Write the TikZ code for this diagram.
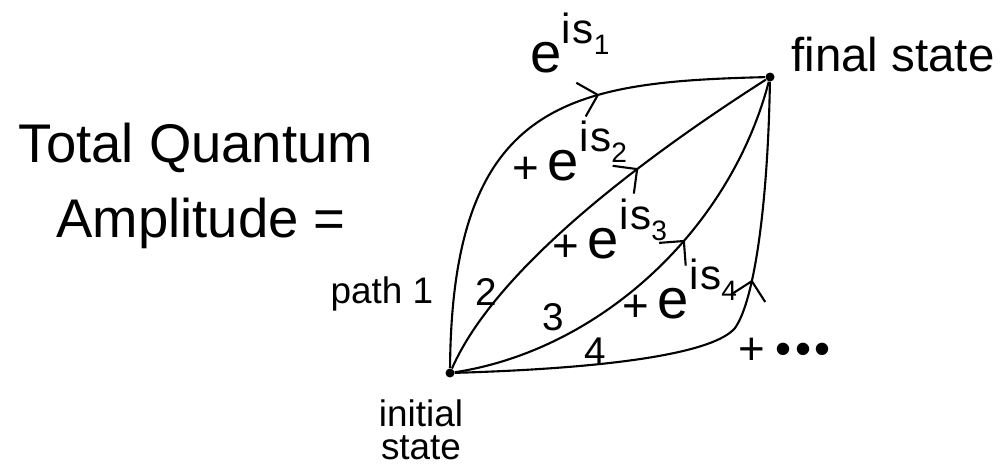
\documentclass[tikz,border=0pt]{standalone}
\usepackage{fontspec}
\setmainfont{Liberation Sans}
\usetikzlibrary{arrows.meta,decorations.markings}

\newcommand{\amp}[1]{e\raisebox{0.5em}{\fontsize{24}{24}\selectfont i\kern1pt s\raisebox{-0.25em}{\fontsize{16}{16}\selectfont #1}}}
\newcommand{\plusamp}[1]{\raisebox{-2pt}{\fontsize{26}{26}\selectfont +}\hspace{5pt}\amp{#1}}

\begin{document}
\begin{tikzpicture}[
    x=0.02cm, y=-0.02cm,
    dot/.style={circle, fill=black, inner sep=0pt, minimum size=1.8mm},
    pathline/.style={line width=1.2pt},
    midarrow/.style={decoration={markings, mark=at position #1 with {\arrow[line width=1.2pt]{Straight Barb[length=3.5mm, width=7mm]}}}, postaction={decorate}},
    big/.style={font=\fontsize{31}{31}\selectfont, inner sep=0pt, anchor=base},
    lbl/.style={font=\fontsize{21}{21}\selectfont, inner sep=0pt, anchor=base},
    num/.style={font=\fontsize{22}{22}\selectfont, inner sep=0pt, anchor=base},
    term/.style={font=\fontsize{32}{32}\selectfont, inner sep=0pt, anchor=base west}
  ]
  \useasboundingbox (0,0) rectangle (1002,467);

  % end points
  \node[dot] (ini) at (450,373) {};
  \node[dot] (fin) at (770,77) {};
  \coordinate (bend) at (735,328);

  % the four paths
  \draw[pathline, midarrow=0.67] (ini) .. controls (452,100) and (570,82) .. (fin);
  \draw[pathline, midarrow=0.64] (ini) .. controls (495,270) and (640,160) .. (fin);
  \draw[pathline, midarrow=0.6] (ini) .. controls (600,350) and (730,230) .. (fin);
  \draw[pathline, midarrow=0.63] (ini) .. controls (620,368) and (715,352) .. (bend)
    .. controls (755,300) and (768,200) .. (fin);

  % text
  \node[big] (tq) at (196,162) {Total Quantum};
  \node[big] (amp) at (201,237) {Amplitude =};
  \node[lbl, font=\fontsize{27}{27}\selectfont] (fs) at (893,71) {final state};
  \node[lbl, anchor=north, align=center, font=\fontsize{21}{19}\selectfont] (ist) at (421,399) {initial\\state};
  \node[lbl] (p1) at (382,303) {path 1};
  \node[num] (n2) at (486,305) {2};
  \node[num] (n3) at (553,330) {3};
  \node[num] (n4) at (595,364) {4};

  % amplitudes
  \node[term] (a1) at (530,72) {\amp{1}};
  \node[term] (a2) at (512,180) {\plusamp{2}};
  \node[term] (a3) at (552,258) {\plusamp{3}};
  \node[term] (a4) at (622,318) {\plusamp{4}};
  \node[term, font=\fontsize{26}{26}\selectfont] (more) at (738,364) {+\hspace{6pt}\textbullet\hspace{2pt}\textbullet\hspace{2pt}\textbullet};
\end{tikzpicture}
\end{document}
